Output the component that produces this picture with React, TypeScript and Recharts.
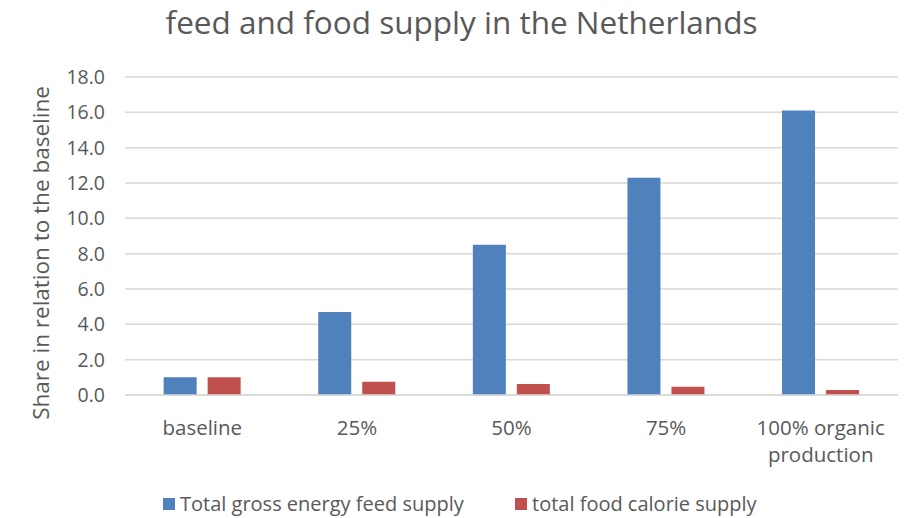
import React from 'react';
import { BarChart, Bar, XAxis, YAxis, CartesianGrid, Legend, Text } from 'recharts';

const categories = ['baseline', '25%', '50%', '75%', '100% organic production'];
const feedSupply = [1.0, 4.7, 8.5, 12.3, 16.1];
const foodSupply = [1.0, 0.75, 0.62, 0.47, 0.28];
const yTicks = [0, 2, 4, 6, 8, 10, 12, 14, 16, 18];

const data = categories.map((c, i) => ({ name: c, feed: feedSupply[i], food: foodSupply[i] }));

const FONT = '"Open Sans", Lato, sans-serif';
const TEXT = '#595959';

const XTick = (props: any) => {
  const { x, y, payload } = props;
  return (
    <Text x={x} y={y + 17} width={150} textAnchor="middle" verticalAnchor="start" lineHeight={27}
      fill={TEXT} fontSize={20.5} fontFamily={FONT}>
      {payload.value}
    </Text>
  );
};

const LegendContent = (props: any) => {
  const { payload } = props;
  return (
    <div style={{ position: 'relative', height: 23, fontFamily: FONT, fontSize: 20, color: TEXT }}>
      {payload.map((p: any, i: number) => (
        <div key={i} style={{ position: 'absolute', left: i === 0 ? 163 : 515, top: -3, height: 23, display: 'flex', alignItems: 'center', whiteSpace: 'nowrap' }}>
          <span style={{ display: 'inline-block', width: 12, height: 12, background: p.color, marginRight: 5 }} />
          <span>{p.value}</span>
        </div>
      ))}
    </div>
  );
};

export default function App() {
  return (
    <div style={{ position: 'absolute', left: 0, top: 0, width: 915, height: 518, background: '#fff' }}>
      <div style={{ position: 'absolute', top: 0, left: 0, width: 915, textAlign: 'center', fontFamily: FONT, fontSize: 31.5, color: TEXT, paddingLeft: 4 }}>
        feed and food supply in the Netherlands
      </div>
      <BarChart width={915} height={518} data={data} margin={{ top: 77, right: 17, left: 0, bottom: 0 }}
        barCategoryGap="25%" barGap={11}>
        <CartesianGrid vertical={false} stroke="#D9D9D9" strokeWidth={1.5} />
        <XAxis dataKey="name" height={100} axisLine={{ stroke: '#D9D9D9', strokeWidth: 1.5 }} tickLine={false}
          tick={<XTick />} interval={0} />
        <YAxis width={125} domain={[0, 18]} ticks={yTicks} axisLine={false} tickLine={false}
          tickFormatter={(v: number) => v.toFixed(1)}
          tick={{ fill: TEXT, fontSize: 19.5, fontFamily: FONT }} tickMargin={14}
          label={{
            content: (p: any) => {
              const vb = p.viewBox;
              const cx = 40;
              const cy = vb.y + vb.height / 2 + 17;
              return (
                <text x={cx} y={cy} transform={`rotate(-90, ${cx}, ${cy})`} textAnchor="middle" dominantBaseline="central"
                  fill={TEXT} fontSize={22.5} fontFamily={FONT}>
                  Share in relation to the baseline
                </text>
              );
            },
          }} />
        <Legend verticalAlign="bottom" content={<LegendContent />} />
        <Bar dataKey="feed" name="Total gross energy feed supply" fill="#4F81BD" isAnimationActive={false} />
        <Bar dataKey="food" name="total food calorie supply" fill="#C0504D" isAnimationActive={false} />
      </BarChart>
    </div>
  );
}
